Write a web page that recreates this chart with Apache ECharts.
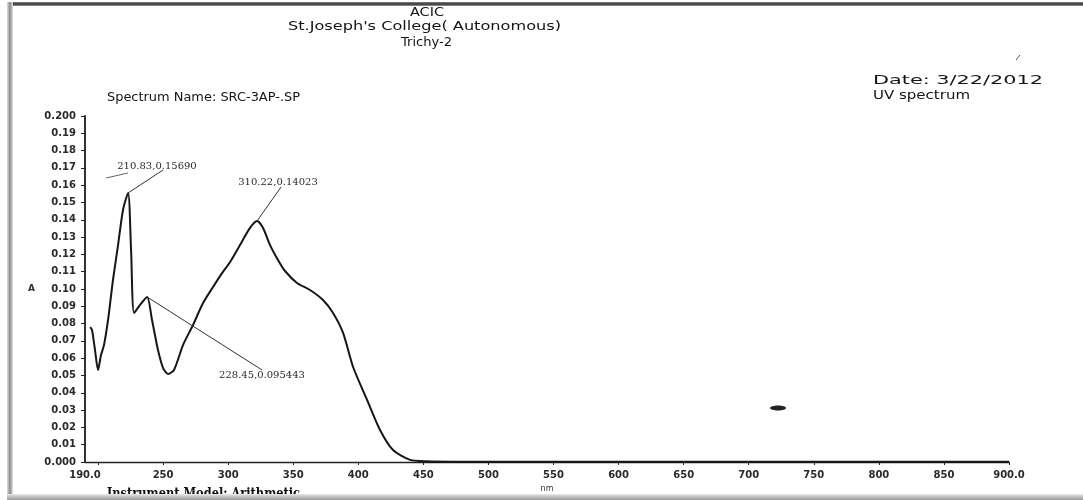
<!DOCTYPE html>
<html>
<head>
<meta charset="utf-8">
<script src="https://cdn.jsdelivr.net/npm/echarts@6/dist/echarts.min.js"></script>
<style>html,body{margin:0;padding:0;background:#fff}#c{width:1083px;height:500px}</style>
</head>
<body>
<div id="c"></div>
<script>
// Wavelength (nm) and absorbance
const wavelengths = [194, 195.4, 197.7, 200.0, 202.3, 204.6, 207.7, 211.5, 215.4, 219.2, 223.1, 225.4, 227.7, 232.3, 237.7, 241.5, 246.1, 250.0, 253.8, 258.4, 265.3, 273.0, 280.7, 288.4, 295.3, 301.5, 309.1, 316.8, 322.2, 326.8, 332.2, 338.3, 343.7, 352.9, 362.9, 372.9, 380.6, 388.3, 396.0, 406.8, 416.7, 426.7, 439.8, 452.9, 470, 500, 600, 700, 800, 900];
const absorbance  = [0.078, 0.0763, 0.0647, 0.0532, 0.0618, 0.0676, 0.0821, 0.1052, 0.1254, 0.1457, 0.1555, 0.1225, 0.0861, 0.0908, 0.0954, 0.0821, 0.0647, 0.0543, 0.0509, 0.0532, 0.0676, 0.0792, 0.0919, 0.1012, 0.1092, 0.1156, 0.1254, 0.1353, 0.1393, 0.1353, 0.1254, 0.1168, 0.1104, 0.1035, 0.0994, 0.0936, 0.0861, 0.0746, 0.0549, 0.0358, 0.0185, 0.0069, 0.0012, 0.0004, 0.0002, 0.0002, 0.0001, 0.0001, 0.0001, 0.0001];

// x axis ticks and labels
const xTickValues  = [200, 250, 300, 350, 400, 450, 500, 550, 600, 650, 700, 750, 800, 850, 900];
const xLabelValues = [190, 250, 300, 350, 400, 450, 500, 550, 600, 650, 700, 750, 800, 850, 900];

// peak annotations: text, peak point, leader end, label centre
const annoText   = ['210.83,0.15690', '310.22,0.14023', '228.45,0.095443'];
const annoPeakNm = [223.1, 322.2, 237.7];
const annoPeakA  = [0.1555, 0.1393, 0.0954];
const annoEndNm  = [250.0, 340.7, 326.0];
const annoEndA   = [0.1688, 0.1590, 0.0532];
const annoTxtNm  = [245.3, 338.3, 326.0];
const annoTxtA   = [0.1710, 0.1618, 0.0500];

const chart = echarts.init(document.getElementById('c'), null, {renderer: 'canvas'});

const measureCtx = document.createElement('canvas').getContext('2d');
function fitText(text, left, top, width, font, fill) {
  measureCtx.font = font;
  const w = measureCtx.measureText(text).width;
  return {
    type: 'text', x: left, y: top, scaleX: width / w, z: 10,
    style: {text: text, font: font, fill: fill || '#151515', textVerticalAlign: 'top', textAlign: 'left'}
  };
}

const seriesData = wavelengths.map((x, i) => [x, absorbance[i]]);
const leaderLines = annoText.map((t, i) => [
  {coord: [annoPeakNm[i], annoPeakA[i]]},
  {coord: [annoEndNm[i], annoEndA[i]]}
]);
const labelPoints = annoText.map((t, i) => ({
  coord: [annoTxtNm[i], annoTxtA[i]],
  label: {formatter: t}
}));

const axisFont = {fontFamily: 'DejaVu Sans', fontWeight: 'bold', fontSize: 10, color: '#2a2a2a'};

chart.setOption({
  animation: false,
  backgroundColor: '#fff',
  grid: {left: 85, right: 74, top: 116, bottom: 38, containLabel: false},
  xAxis: {
    type: 'value', min: 190, max: 900,
    name: 'nm', nameLocation: 'middle', nameGap: 22,
    nameTextStyle: {fontFamily: 'DejaVu Sans', fontSize: 8, color: '#333'},
    axisLine: {show: true, lineStyle: {color: '#222', width: 1.4}},
    axisTick: {show: true, customValues: xTickValues, length: 3, lineStyle: {color: '#222'}},
    axisLabel: Object.assign({customValues: xLabelValues, margin: 8,
      formatter: v => (v === 190 || v === 900) ? v.toFixed(1) : String(v)}, axisFont),
    splitLine: {show: false}
  },
  yAxis: {
    type: 'value', min: 0, max: 0.2, interval: 0.01,
    name: 'A', nameLocation: 'middle', nameGap: 50, nameRotate: 0,
    nameTextStyle: {fontFamily: 'DejaVu Sans', fontWeight: 'bold', fontSize: 9, color: '#333'},
    axisLine: {show: true, lineStyle: {color: '#1a1a1a', width: 1.8}},
    axisTick: {show: true, length: 4, lineStyle: {color: '#222'}},
    axisLabel: Object.assign({margin: 9, formatter: v => {
      const k = Math.round(v * 100);
      if (k === 0) return '0.000';
      if (k === 20) return '0.200';
      return (k / 100).toFixed(2);
    }}, axisFont),
    splitLine: {show: false}
  },
  series: [{
    type: 'line',
    data: seriesData,
    smooth: 0.25,
    showSymbol: false,
    lineStyle: {color: '#161616', width: 2},
    markLine: {
      silent: true, symbol: ['none', 'none'],
      lineStyle: {color: '#333', width: 1, type: 'solid'},
      label: {show: false},
      data: leaderLines
    },
    markPoint: {
      symbol: 'circle', symbolSize: 1,
      itemStyle: {color: 'rgba(0,0,0,0)'},
      label: {show: true, position: 'inside', color: '#2a2a2a', fontFamily: 'DejaVu Serif', fontSize: 10},
      data: labelPoints
    }
  }],
  graphic: [
    // scanned page edges
    {type: 'rect', shape: {x: 8, y: 2, width: 1075, height: 4}, style: {fill: new echarts.graphic.LinearGradient(0,0,0,1,[{offset:0,color:'#888'},{offset:0.5,color:'#333'},{offset:1,color:'#999'}])}, z: 5},
    {type: 'rect', shape: {x: 7, y: 2, width: 6, height: 498}, style: {fill: new echarts.graphic.LinearGradient(0,0,1,0,[{offset:0,color:'#ddd'},{offset:0.5,color:'#8a8a8a'},{offset:1,color:'#e5e5e5'}])}, z: 5},
    fitText('ACIC', 410, 7, 34, '12px "DejaVu Sans"'),
    fitText("St.Joseph's College( Autonomous)", 288, 21, 273, '12px "DejaVu Sans"'),
    fitText('Trichy-2', 401, 37, 51, '12px "DejaVu Sans"'),
    fitText('Spectrum Name: SRC-3AP-.SP', 107, 91, 193, '13px "DejaVu Sans"'),
    fitText('Date: 3/22/2012', 873, 74, 170, '13px "DejaVu Sans"'),
    fitText('UV spectrum', 873, 89, 97, '13px "DejaVu Sans"'),
    fitText('Instrument Model: Arithmetic', 107, 487, 193, 'bold 14px "DejaVu Serif"', '#111'),
    // stray pen marks on the scan
    {type: 'line', shape: {x1: 106, y1: 178, x2: 128, y2: 173}, style: {stroke: '#666', lineWidth: 1}, z: 6},
    {type: 'ellipse', shape: {cx: 778, cy: 408, rx: 8, ry: 2.5}, style: {fill: '#222'}, z: 6},
    {type: 'line', shape: {x1: 1016, y1: 60, x2: 1020, y2: 55}, style: {stroke: '#555', lineWidth: 1}, z: 6},
    {type: 'rect', shape: {x: 7, y: 494, width: 1076, height: 6}, style: {fill: new echarts.graphic.LinearGradient(0,0,0,1,[{offset:0,color:'#e8e8e8'},{offset:1,color:'#9a9a9a'}])}, z: 11}
  ]
});
</script>
</body>
</html>
